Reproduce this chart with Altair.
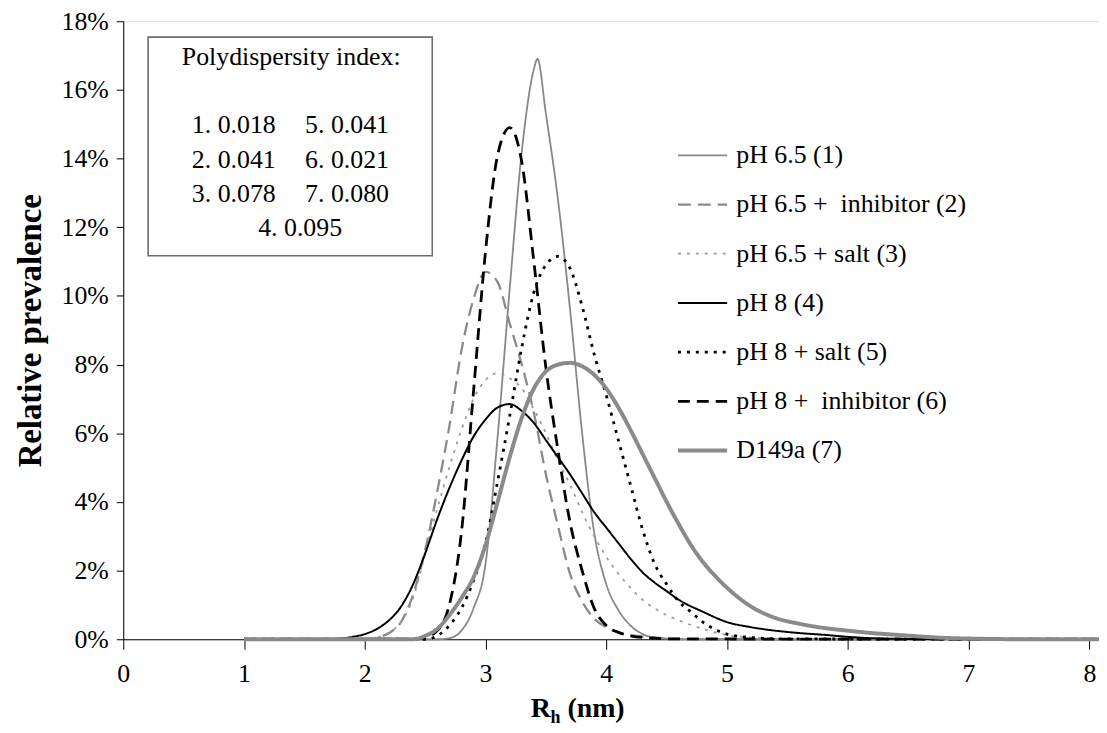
import altair as alt
import pandas as pd

# ---------------- data ----------------
names = ["pH 6.5 (1)", "pH 6.5 + \u00a0inhibitor (2)", "pH 6.5 + salt (3)", "pH 8 (4)",
         "pH 8 + salt (5)", "pH 8 + \u00a0inhibitor (6)", "D149a (7)"]

s1_x = [1.0, 2.6, 2.7, 2.8, 2.9, 3.0, 3.1, 3.2, 3.3, 3.4, 3.43, 3.5, 3.6, 3.7, 3.8, 3.9, 4.0, 4.1, 4.2, 4.3, 4.4, 4.5, 4.7, 8.08]
s1_y = [0, 0, 0.03, 0.25, 0.9, 2.2, 5.9, 10.2, 14.2, 16.6, 16.9, 15.3, 12.8, 9.6, 6.0, 3.1, 1.6, 0.85, 0.4, 0.15, 0.05, 0.02, 0, 0]

s2_x = [1.0, 2.0, 2.1, 2.2, 2.3, 2.4, 2.5, 2.6, 2.7, 2.8, 2.9, 3.0, 3.1, 3.2, 3.3, 3.4, 3.5, 3.6, 3.7, 3.8, 3.9, 4.0, 4.1, 4.2, 4.4, 4.6, 4.8, 8.08]
s2_y = [0, 0, 0.05, 0.18, 0.5, 1.3, 2.6, 4.3, 6.2, 8.4, 9.9, 10.7, 10.4, 9.2, 8.0, 6.6, 4.8, 3.3, 1.9, 1.1, 0.6, 0.35, 0.2, 0.12, 0.05, 0.01, 0, 0]

s3_x = [1.0, 2.0, 2.1, 2.2, 2.3, 2.4, 2.5, 2.6, 2.7, 2.8, 2.9, 3.0, 3.1, 3.2, 3.3, 3.4, 3.5, 3.6, 3.7, 3.8, 3.9, 4.0, 4.1, 4.2, 4.3, 4.4, 4.5, 4.6, 4.8, 5.0, 5.2, 5.5, 8.08]
s3_y = [0, 0, 0.05, 0.2, 0.5, 1.2, 2.5, 3.8, 5.0, 6.1, 7.0, 7.55, 7.75, 7.6, 7.3, 6.7, 6.0, 5.2, 4.5, 3.7, 3.0, 2.4, 1.9, 1.5, 1.15, 0.9, 0.7, 0.55, 0.3, 0.12, 0.05, 0.01, 0]

s4_x = [1.0, 1.7, 1.8, 1.9, 2.0, 2.1, 2.2, 2.3, 2.4, 2.5, 2.6, 2.7, 2.8, 2.9, 3.0, 3.1, 3.2, 3.3, 3.4, 3.5, 3.6, 3.7, 3.8, 3.9, 4.0, 4.1, 4.2, 4.3, 4.4, 4.5, 4.6, 4.8, 5.0, 5.2, 5.4, 5.6, 5.8, 6.0, 6.2, 6.5, 8.08]
s4_y = [0, 0, 0.02, 0.07, 0.15, 0.3, 0.55, 0.95, 1.6, 2.5, 3.5, 4.4, 5.2, 5.9, 6.4, 6.75, 6.85, 6.65, 6.3, 5.8, 5.3, 4.8, 4.25, 3.7, 3.25, 2.8, 2.35, 1.95, 1.65, 1.4, 1.15, 0.8, 0.5, 0.35, 0.25, 0.18, 0.13, 0.07, 0.03, 0.01, 0]

s5_x = [1.0, 2.5, 2.6, 2.7, 2.8, 2.9, 3.0, 3.1, 3.2, 3.3, 3.4, 3.5, 3.6, 3.7, 3.8, 3.9, 4.0, 4.1, 4.2, 4.3, 4.4, 4.5, 4.6, 4.7, 4.8, 5.0, 5.2, 5.5, 8.08]
s5_y = [0, 0, 0.1, 0.4, 0.9, 1.7, 2.8, 4.6, 6.5, 8.5, 10.1, 10.9, 11.15, 10.8, 9.7, 8.3, 7.1, 5.8, 4.5, 3.2, 2.2, 1.6, 1.1, 0.8, 0.5, 0.15, 0.05, 0.01, 0]

s6_x = [1.0, 2.4, 2.5, 2.6, 2.7, 2.8, 2.9, 3.0, 3.1, 3.2, 3.3, 3.4, 3.5, 3.6, 3.7, 3.8, 3.9, 4.0, 4.1, 4.2, 4.4, 4.6, 8.08]
s6_y = [0, 0, 0.05, 0.25, 1.0, 3.1, 7.2, 11.3, 14.1, 14.9, 13.9, 11.0, 7.9, 5.5, 3.4, 2.0, 0.9, 0.4, 0.2, 0.1, 0.03, 0.01, 0]

s7_x = [1.0, 2.4, 2.5, 2.6, 2.7, 2.8, 2.9, 3.0, 3.1, 3.2, 3.3, 3.4, 3.5, 3.6, 3.7, 3.8, 3.9, 4.0, 4.1, 4.2, 4.3, 4.4, 4.5, 4.6, 4.7, 4.8, 4.9, 5.0, 5.2, 5.4, 5.6, 5.8, 6.0, 6.2, 6.4, 6.6, 6.8, 7.0, 7.5, 8.08]
s7_y = [0, 0, 0.1, 0.3, 0.7, 1.2, 1.8, 2.75, 4.0, 5.3, 6.45, 7.3, 7.8, 8.0, 8.05, 7.95, 7.7, 7.3, 6.75, 6.1, 5.4, 4.7, 4.0, 3.35, 2.75, 2.25, 1.85, 1.5, 0.95, 0.62, 0.45, 0.33, 0.25, 0.18, 0.13, 0.08, 0.04, 0.02, 0, 0]

series_x = [s1_x, s2_x, s3_x, s4_x, s5_x, s6_x, s7_x]
series_y = [s1_y, s2_y, s3_y, s4_y, s5_y, s6_y, s7_y]

x_ticks = [0, 1, 2, 3, 4, 5, 6, 7, 8]
y_ticks = [0, 2, 4, 6, 8, 10, 12, 14, 16, 18]

pdi_title = "Polydispersity index:"
pdi_left = ["1. 0.018", "2. 0.041", "3. 0.078"]
pdi_right = ["5. 0.041", "6. 0.021", "7. 0.080"]
pdi_last = "4. 0.095"

# ---------------- styles ----------------
colors = ["#888888", "#8a8a8a", "#9c9c9c", "#000000", "#000000", "#000000", "#8a8a8a"]
dashes = [[1, 0], [13, 7], [3, 6], [1, 0], [3, 6], [12, 7], [1, 0]]
widths = [1.8, 2.3, 1.8, 2.0, 2.8, 2.8, 4.0]

FONT = "Liberation Serif"

rows = []
for i, (xs, ys) in enumerate(zip(series_x, series_y)):
    for k, (xv, yv) in enumerate(zip(xs, ys)):
        rows.append({"series": names[i], "rh": xv, "val": yv, "k": k, "w": widths[i]})
df = pd.DataFrame(rows)

# legend symbol widths follow the line widths
width_expr = "2"
for n, w in zip(names, widths):
    width_expr = f"(datum.value === '{n}' ? {w} : {width_expr})"

leg = dict(orient="none", legendX=557, legendY=109, symbolType="stroke", symbolSize=2450,
           labelFont=FONT, labelFontSize=26, labelColor="black", labelOffset=8,
           rowPadding=10.5, padding=0, title=None, labelLimit=500,
           symbolStrokeWidth=alt.ExprRef(expr=width_expr))

lines = alt.Chart(df).mark_line(interpolate="monotone").encode(
    x=alt.X("rh:Q", scale=alt.Scale(domain=[0, 8.08], nice=False),
            axis=alt.Axis(values=x_ticks, title=None, labelFont=FONT, labelFontSize=26,
                          labelColor="black", tickSize=10, labelPadding=12, grid=False,
                          domainColor="black", tickColor="black", labelFlush=False)),
    y=alt.Y("val:Q", scale=alt.Scale(domain=[0, 18], nice=False),
            axis=alt.Axis(values=y_ticks, labelExpr="datum.value + '%'",
                          title="Relative prevalence", titleFont=FONT, titleFontSize=33,
                          titleFontWeight="bold", titleColor="black",
                          titleX=-93, titleY=311, titleAngle=-90, titleBaseline="middle",
                          titleAlign="center",
                          labelFont=FONT, labelFontSize=26, labelColor="black",
                          tickSize=7, labelPadding=8, grid=False,
                          domainColor="black", tickColor="black")),
    color=alt.Color("series:N", sort=names,
                    scale=alt.Scale(domain=names, range=colors), legend=alt.Legend(**leg)),
    strokeDash=alt.StrokeDash("series:N", sort=names,
                              scale=alt.Scale(domain=names, range=dashes), legend=alt.Legend(**leg)),
    strokeWidth=alt.StrokeWidth("w:Q", scale=None, legend=None),
    detail="series:N",
    order="k:Q",
)

box = alt.Chart(pd.DataFrame({"a": [0]})).mark_rect(
    fill="white", stroke="#6e6e6e", strokeWidth=1.6
).encode(x=alt.value(25), x2=alt.value(311), y=alt.value(16), y2=alt.value(236))


def txt(s, x, y, align="left", size=26, weight="normal"):
    return alt.Chart(pd.DataFrame({"t": [s]})).mark_text(
        align=align, baseline="alphabetic", font=FONT, fontSize=size,
        fontWeight=weight, color="black"
    ).encode(x=alt.value(x), y=alt.value(y), text="t:N")


texts = [txt(pdi_title, 169, 44, align="center")]
for j, s in enumerate(pdi_left):
    texts.append(txt(s, 69, 113 + 34.5 * j))
for j, s in enumerate(pdi_right):
    texts.append(txt(s, 183, 113 + 34.5 * j))
texts.append(txt(pdi_last, 178, 216, align="center"))

# x-axis title with subscript
texts.append(txt("R", 410, 700, size=28, weight="bold"))
texts.append(txt("h", 430, 706, size=18, weight="bold"))
texts.append(txt("(nm)", 447, 700, size=28, weight="bold"))

chart = alt.layer(lines, box, *texts).properties(
    width=982, height=622,
    padding={"left": 116, "top": 11, "right": 0, "bottom": 85},
    autosize=alt.AutoSizeParams(type="none"),
).configure_view(stroke=None).configure(background="white")

chart.save("out.html", embed_options={"renderer": "svg", "actions": False})
